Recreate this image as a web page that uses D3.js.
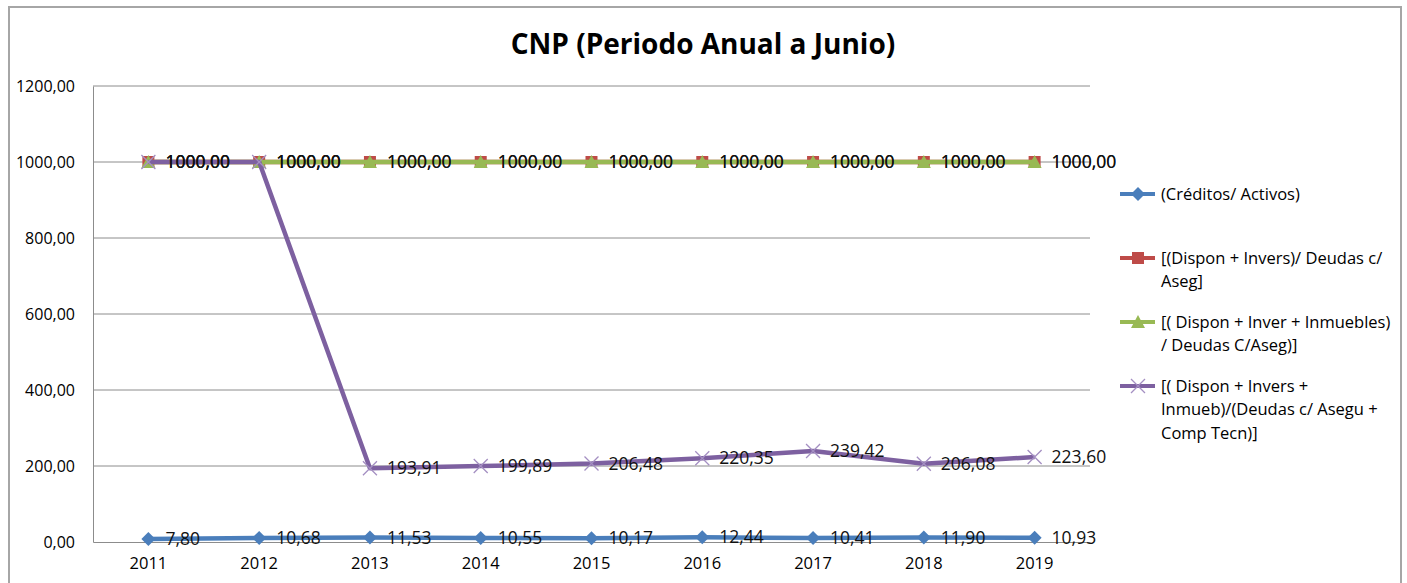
<!DOCTYPE html>
<html>
<head>
<meta charset="utf-8">
<script src="https://cdn.jsdelivr.net/npm/d3@7"></script>
<style>
  body { margin: 0; background: #fff; }
  text { font-family: "Open Sans", Lato, sans-serif; }
</style>
</head>
<body>
<svg id="chart" width="1407" height="583"></svg>
<script>
var years = ['2011', '2012', '2013', '2014', '2015', '2016', '2017', '2018', '2019'];

var creditos = [7.80, 10.68, 11.53, 10.55, 10.17, 12.44, 10.41, 11.90, 10.93];
var disponInvers = [1000, 1000, 1000, 1000, 1000, 1000, 1000, 1000, 1000];
var disponInverInmuebles = [1000, 1000, 1000, 1000, 1000, 1000, 1000, 1000, 1000];
var disponInversInmueb = [1000, 1000, 193.91, 199.89, 206.48, 220.35, 239.42, 206.08, 223.60];

var seriesNames = [
  ['(Créditos/ Activos)'],
  ['[(Dispon + Invers)/ Deudas c/', 'Aseg]'],
  ['[( Dispon + Inver + Inmuebles)', '/ Deudas C/Aseg)]'],
  ['[( Dispon + Invers +', 'Inmueb)/(Deudas c/ Asegu +', 'Comp Tecn)]']
];

var yTicks = [0, 200, 400, 600, 800, 1000, 1200];

var series = [
  { name: seriesNames[0], values: creditos, color: '#4A7EBB', marker: 'diamond' },
  { name: seriesNames[1], values: disponInvers, color: '#BE4B48', marker: 'square' },
  { name: seriesNames[2], values: disponInverInmuebles, color: '#98B954', marker: 'triangle' },
  { name: seriesNames[3], values: disponInversInmueb, color: '#7D60A0', marker: 'cross' }
];

var svg = d3.select('#chart');

var plotLeft = 93;
var plotRight = 1090;
var plotTop = 86;
var plotBottom = 542;

var x = d3.scaleBand().domain(years).range([plotLeft, plotRight]);
var y = d3.scaleLinear().domain([0, 1200]).range([plotBottom, plotTop]);

function cx(d, i) {
  return x(years[i]) + x.bandwidth() / 2;
}

function fmt(v) {
  return d3.format('.2f')(v).replace('.', ',');
}

// outer chart frame
svg.append('rect')
  .attr('x', 9).attr('y', 7)
  .attr('width', 1392).attr('height', 600)
  .attr('fill', 'none')
  .attr('stroke', '#a6a6a6')
  .attr('stroke-width', 2);

svg.append('text')
  .attr('x', 703).attr('y', 54)
  .attr('text-anchor', 'middle')
  .attr('font-size', 28)
  .attr('font-weight', 'bold')
  .attr('fill', '#000')
  .text('CNP (Periodo Anual a Junio)');

// gridlines
svg.append('g')
  .selectAll('line')
  .data(yTicks.slice(1))
  .enter()
  .append('line')
  .attr('x1', plotLeft).attr('x2', plotRight)
  .attr('y1', function (d) { return y(d); })
  .attr('y2', function (d) { return y(d); })
  .attr('stroke', '#8c8c8c')
  .attr('stroke-width', 1);

var yAxis = svg.append('g')
  .attr('transform', 'translate(' + plotLeft + ',0)')
  .call(d3.axisLeft(y).tickValues(yTicks).tickSize(0).tickPadding(18).tickFormat(fmt));
yAxis.select('.domain').attr('stroke', '#8c8c8c');
yAxis.selectAll('text').attr('font-size', 16).attr('fill', '#000')
  .style('font-family', '"Open Sans", sans-serif');

var xAxis = svg.append('g')
  .attr('transform', 'translate(0,' + plotBottom + ')')
  .call(d3.axisBottom(x).tickSize(0).tickPadding(15));
xAxis.select('.domain').attr('stroke', '#8c8c8c');
xAxis.selectAll('text').attr('font-size', 16.5).attr('fill', '#000')
  .style('font-family', '"Open Sans", sans-serif');

var line = d3.line()
  .x(cx)
  .y(function (d) { return y(d); });

function drawMarker(sel, type, color, px, py) {
  if (type === 'diamond') {
    sel.append('path')
      .attr('d', 'M' + px + ',' + (py - 7) + 'L' + (px + 7) + ',' + py + 'L' + px + ',' + (py + 7) + 'L' + (px - 7) + ',' + py + 'Z')
      .attr('fill', color);
  } else if (type === 'square') {
    sel.append('rect')
      .attr('x', px - 6).attr('y', py - 6)
      .attr('width', 12).attr('height', 12)
      .attr('fill', color);
  } else if (type === 'triangle') {
    sel.append('path')
      .attr('d', 'M' + px + ',' + (py - 7) + 'L' + (px + 7) + ',' + (py + 6) + 'L' + (px - 7) + ',' + (py + 6) + 'Z')
      .attr('fill', color);
  } else {
    sel.append('path')
      .attr('d', 'M' + (px - 7) + ',' + (py - 7) + 'L' + (px + 7) + ',' + (py + 7) + 'M' + (px + 7) + ',' + (py - 7) + 'L' + (px - 7) + ',' + (py + 7))
      .attr('stroke', '#a48fc2')
      .attr('stroke-width', 1.3)
      .attr('fill', 'none');
  }
}

series.forEach(function (s) {
  var g = svg.append('g');
  g.append('path')
    .datum(s.values)
    .attr('d', line)
    .attr('fill', 'none')
    .attr('stroke', s.color)
    .attr('stroke-width', 4.5)
    .attr('stroke-linejoin', 'round');
  s.values.forEach(function (v, i) {
    drawMarker(g, s.marker, s.color, cx(v, i), y(v));
  });
});

// data labels
series.forEach(function (s) {
  svg.append('g')
    .selectAll('text')
    .data(s.values)
    .enter()
    .append('text')
    .attr('x', function (d, i) { return cx(d, i) + 17; })
    .attr('y', function (d) { return y(d); })
    .attr('dy', '0.35em')
    .attr('font-size', 17.5)
    .attr('fill', '#111')
    .text(fmt);
});

// legend
var legendRows = [194, 258, 322, 386];
var legend = svg.append('g');
series.forEach(function (s, i) {
  var ly = legendRows[i];
  legend.append('line')
    .attr('x1', 1120).attr('x2', 1155)
    .attr('y1', ly).attr('y2', ly)
    .attr('stroke', s.color)
    .attr('stroke-width', 4);
  drawMarker(legend, s.marker, s.color, 1138, ly);
  s.name.forEach(function (t, j) {
    legend.append('text')
      .attr('x', 1161)
      .attr('y', ly + j * 23.5)
      .attr('dy', '0.35em')
      .attr('font-size', 16.5)
      .attr('fill', '#000')
      .text(t);
  });
});
</script>
</body>
</html>
